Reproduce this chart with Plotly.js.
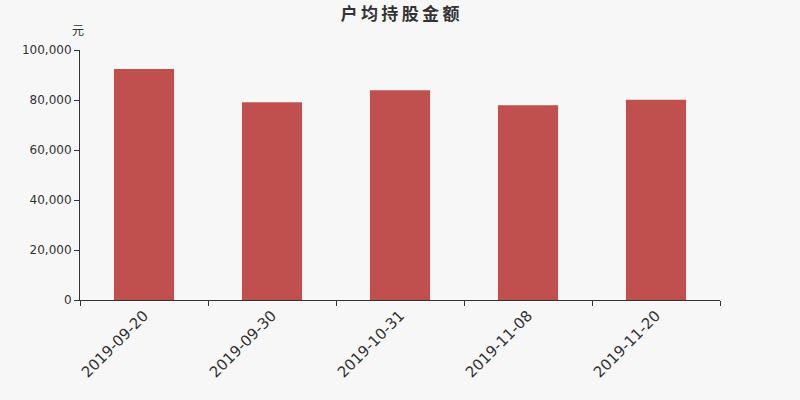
<!DOCTYPE html>
<html>
<head>
<meta charset="utf-8">
<script src="https://cdn.plot.ly/plotly-3.0.1.min.js"></script>
<style>
  html, body { margin: 0; padding: 0; background: #f7f7f7; }
  #chart { width: 800px; height: 400px; }
</style>
</head>
<body>
<div id="chart"></div>
<script>
// 户均持股金额 (元)
const chartTitle = '户均持股金额';
const dates = ['2019-09-20', '2019-09-30', '2019-10-31', '2019-11-08', '2019-11-20'];
const amounts = [92400, 79100, 83900, 77900, 80100];
const yTicks = [0, 20000, 40000, 60000, 80000, 100000];
const yTickText = ['0', '20,000', '40,000', '60,000', '80,000', '100,000'];

const font = '"DejaVu Sans", "Noto Sans CJK SC", sans-serif';
const cjk = '"Noto Sans CJK SC", sans-serif';
const fg = '#333333';

// the original title is letter-spaced; thin spaces get close to that
const spacedTitle = chartTitle.split('').join('\u2009');

Plotly.newPlot('chart', [{
    x: dates,
    y: amounts,
    type: 'bar',
    width: 0.47,
    marker: { color: '#c0504e' },
    hoverinfo: 'x+y',
}], {
    width: 800,
    height: 400,
    paper_bgcolor: '#f7f7f7',
    plot_bgcolor: '#f7f7f7',
    font: { family: font, color: fg, size: 12 },
    margin: { t: 50, r: 80, b: 100, l: 80 },
    showlegend: false,
    title: {
        text: '<b>' + spacedTitle + '</b>',
        x: 0.5, xanchor: 'center',
        y: 0.966, yanchor: 'middle',
        font: { family: cjk, size: 17, color: fg },
    },
    xaxis: {
        type: 'category',
        showline: true, linecolor: fg, linewidth: 1,
        ticks: 'outside', tickson: 'boundaries', ticklen: 5, tickcolor: fg,
        tickangle: -45,
        tickfont: { size: 15, color: fg },
        showgrid: false, zeroline: false,
    },
    yaxis: {
        range: [0, 100000],
        tickvals: yTicks,
        ticktext: yTickText,
        showline: true, linecolor: fg, linewidth: 1,
        ticks: 'outside', ticklen: 5, tickcolor: fg,
        tickfont: { size: 12, color: fg },
        showgrid: false, zeroline: false,
    },
    annotations: [{
        text: '元',
        xref: 'paper', yref: 'paper',
        x: 0, y: 1, xanchor: 'right', yanchor: 'bottom',
        xshift: 6, yshift: 10,
        showarrow: false,
        font: { family: cjk, size: 12, color: fg },
    }],
}, { displayModeBar: false, responsive: false });
</script>
</body>
</html>
